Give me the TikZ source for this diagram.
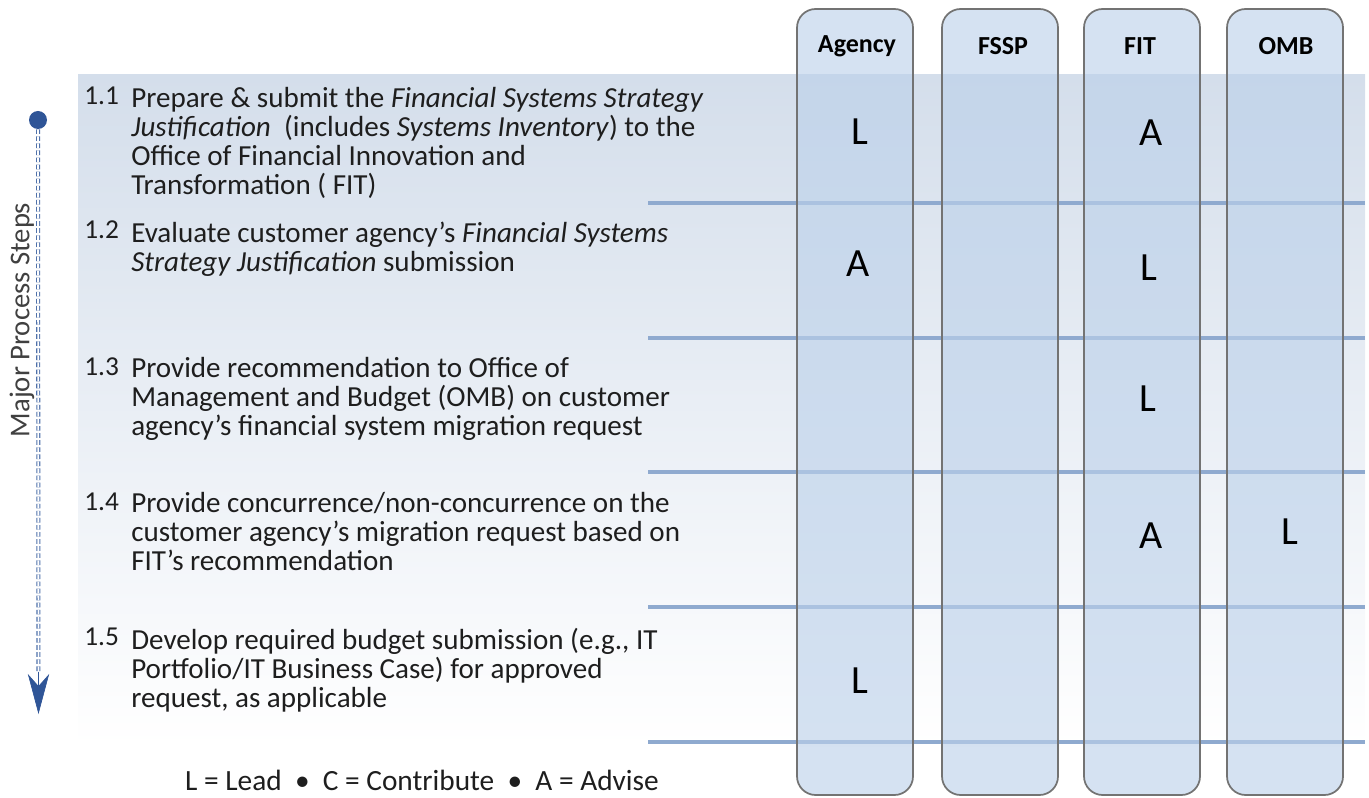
\documentclass[tikz,border=0pt]{standalone}
\usepackage{fontspec}
\setmainfont{Carlito}
\usetikzlibrary{arrows.meta}
\definecolor{panelblue}{RGB}{212,222,235}
\definecolor{laneblue}{RGB}{188,209,234}
\definecolor{rowblue}{RGB}{143,170,207}
\definecolor{flowblue}{RGB}{47,85,151}
\definecolor{dashblue}{RGB}{79,113,170}
\definecolor{inkgray}{RGB}{30,30,30}

\begin{document}
\begin{tikzpicture}[x=0.75pt,y=-0.75pt,
  lane/.style={draw=black!55,line width=1.3pt,fill=laneblue,fill opacity=0.63,rounded corners=14pt,minimum width=87pt,minimum height=589.5pt,inner sep=0pt},
  lanehead/.style={font=\fontsize{19.5}{22}\selectfont\bfseries,text=black},
  rolemark/.style={font=\fontsize{30}{32}\selectfont,text=black},
  stepnum/.style={anchor=base west,inner sep=0pt,font=\fontsize{20.5}{22}\selectfont,text=inkgray},
  steptext/.style={anchor=north west,inner sep=0pt,align=left,font=\fontsize{21.8}{21.75}\selectfont,text=inkgray},
  rowsep/.style={draw=rowblue,line width=3pt},
  flowline/.style={draw=dashblue,line width=0.8pt,double=white,double distance=1.4pt,dash pattern=on 3.5pt off 1.8pt},
  flowhead/.style={draw=flowblue,line width=0.5pt,-{Stealth[length=30pt,width=16pt,inset=9pt]}}]
\useasboundingbox (0,0) rectangle (1369,798);
\fill[top color=panelblue,bottom color=white] (78,75) rectangle (1365,746);

\draw[rowsep] (648,203) -- (1365,203);
\draw[rowsep] (648,338) -- (1365,338);
\draw[rowsep] (648,472) -- (1365,472);
\draw[rowsep] (648,607) -- (1365,607);
\draw[rowsep] (648,742) -- (1365,742);

\node[lane] (agency) at (855,402) {};
\node[lane] (fssp) at (1000,402) {};
\node[lane] (fit) at (1142,402) {};
\node[lane] (omb) at (1285,402) {};

\node[lanehead] (agencyhd) at (857,46) {Agency};
\node[lanehead] (fssphd) at (1003,46) {FSSP};
\node[lanehead] (fithd) at (1140,46) {FIT};
\node[lanehead] (ombhd) at (1286,46) {OMB};

\node[rolemark] (r1agency) at (860,132) {L};
\node[rolemark] (r1fit) at (1151,133) {A};
\node[rolemark] (r2agency) at (858,264) {A};
\node[rolemark] (r2fit) at (1149,268) {L};
\node[rolemark] (r3fit) at (1148,399) {L};
\node[rolemark] (r4fit) at (1151,536) {A};
\node[rolemark] (r4omb) at (1290,532) {L};
\node[rolemark] (r5agency) at (860,681) {L};

\node[stepnum] (n1) at (84,105) {1.1};
\node[steptext] (s1) at (131,87.5) {Prepare \& submit the \textit{Financial Systems Strategy}\\\textit{Justification}\ \ (includes \textit{Systems Inventory}) to the\\Office of Financial Innovation and\\Transformation ( FIT)};
\node[stepnum] (n2) at (84,239) {1.2};
\node[steptext] (s2) at (131,221.5) {Evaluate customer agency’s \textit{Financial Systems}\\\textit{Strategy Justification} submission};
\node[stepnum] (n3) at (84,375) {1.3};
\node[steptext] (s3) at (131,357.5) {Provide recommendation to Office of\\Management and Budget (OMB) on customer\\agency’s financial system migration request};
\node[stepnum] (n4) at (84,510) {1.4};
\node[steptext] (s4) at (131,492.5) {Provide concurrence/non-concurrence on the\\customer agency’s migration request based on\\FIT’s recommendation};
\node[stepnum] (n5) at (84,645) {1.5};
\node[steptext] (s5) at (131,627.5) {Develop required budget submission (e.g., IT\\Portfolio/IT Business Case) for approved\\request, as applicable};

\node[circle,fill=flowblue,inner sep=0pt,minimum size=13.5pt] (flowtop) at (38,120) {};
\coordinate (flowneck) at (38.5,672);
\coordinate (flowend) at (38.5,714);
\path[flowline] (flowtop) -- (flowneck);
\path[flowhead] (flowneck) -- (flowend);
\node[rotate=90,font=\fontsize{21.5}{24}\selectfont,text=black!75] (flowlabel) at (22,320) {Major Process Steps};

\node[font=\fontsize{22}{24}\selectfont,text=inkgray] (legend) at (422,780) {L = Lead \ \textbullet\ \ C = Contribute \ \textbullet\ \ A = Advise};
\end{tikzpicture}
\end{document}
